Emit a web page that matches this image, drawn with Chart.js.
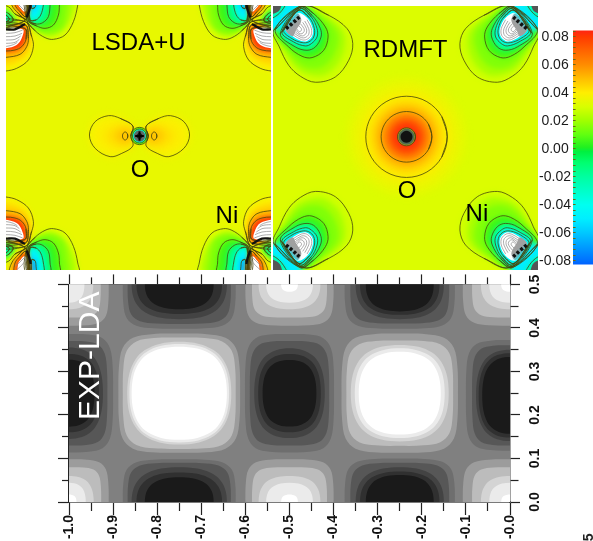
<!DOCTYPE html>
<html><head><meta charset="utf-8">
<script src="https://cdn.jsdelivr.net/npm/chart.js@4"></script>
<style>
html,body{margin:0;padding:0;background:#fff;width:593px;height:541px;overflow:hidden}
canvas{position:absolute;display:block}
</style></head><body>
<canvas id="cLsda" width="265" height="265" style="left:6px;top:5px;width:265px;height:265px"></canvas>
<canvas id="cRdmft" width="265" height="264" style="left:273px;top:6px;width:265px;height:264px"></canvas>
<canvas id="cBar" width="55" height="255" style="left:538px;top:20px;width:55px;height:255px"></canvas>
<canvas id="cExp" width="593" height="270" style="left:0;top:271px;width:593px;height:270px"></canvas>
<script>
/* ---------- colour bar ---------- */
const colourValues=[.0836,.08,.07,.06,.05,.04,.03,.02,.01,.001,-.002,-.01,-.02,-.04,-.05,-.06,-.07,-.08,-.0836];
const colourHexes=['#ff2810','#ff3a00','#ff6400','#ff8c00','#ffbe00','#ffee00','#d8ff00','#a0ff00','#60ff10','#20f020','#00f040','#00ff70','#00ffa0','#00fff0','#00eeff','#00c8ff','#009cff','#0070ff','#0060ff'];
const barTickLabels=['-0.08','-0.06','-0.04','-0.02','0.00','0.02','0.04','0.06','0.08'];

/* ---------- LSDA+U panel: field regions of one Ni corner [value, outline, has contour] ---------- */
const lsdaBlueLobe=[
 [.03,[80,60,105,92,135,113,160,118,195,105,220,65,233,15,235,-15,82,-15],1],
 [.022,[81,60,110,92,145,108,180,95,215,50,222,-15,84,-15],0],
 [.015,[82,60,115,92,155,100,190,80,205,15,205,-15,84,-15],0],
 [.005,[85,62,110,78,135,85,160,75,175,45,178,15,178,-15,85,-15],1],
 [-.015,[88,62,108,72,128,68,145,50,150,15,150,-15,88,-15],1],
 [-.035,[90,60,108,60,122,45,130,15,130,-15,90,-15],1],
 [-.05,[92,50,108,48,115,30,115,-15,92,-15],0],
 [-.068,[95,25,105,22,108,5,108,-15,95,-15],1]];
const lsdaRedLobe=[
 [.039,[76,65,95,110,100,140,85,180,50,205,18,213,-15,215,-15,70],1],
 [.045,[76,75,90,115,90,140,72,172,40,190,18,193,-15,193,-15,75],0],
 [.054,[76,75,85,115,80,140,60,163,18,172,-15,172,-15,80],1],
 [.068,[74,85,78,118,65,140,45,150,18,153,-15,152,-15,85],1],
 [.082,[72,85,70,120,55,142,18,150,-15,149,-15,85],0],
 ['#ffffff',[68,88,65,115,50,135,18,145,-15,146,-15,85],0]];
const lsdaGreenLobe=[
 [.03,[76,60,45,42,25,20,-15,15,-15,85,25,80],1],
 [.012,[48,60,32,40,18,25,-15,25,-15,78,25,75],0],
 [-.01,[40,60,25,40,-15,30,-15,72,25,70],1],
 [-.03,[28,58,18,45,-15,45,-15,65,18,65],1]];
const lsdaTopLobe=[
 [.05,[77,58,55,40,35,15,30,-15,88,-15,85,20],1],
 [.065,[76,50,60,35,45,15,45,-15,85,-15,84,25],1],
 [.08,[75,42,62,28,52,15,52,-15,83,-15,82,28],0],
 ['#ffffff',[72,35,62,25,55,15,55,-15,80,-15,80,30],0]];
const lsdaFineLines=[[-15,100,18,100,45,98,68,90],[-15,110,18,110,45,108,66,100],[-15,120,20,120,45,118,62,108],[-15,130,20,130,45,127,58,118],[-15,140,20,139,40,134,52,127],[45,5,60,18,72,30],[50,-5,65,8,78,25]];
const lsdaBlackLines=[[-15,88,18,88,45,88,75,72],[92,12,88,30,80,52]];
/* oxygen site */
const lsdaOxygenLobes=[
 [.039,[398,378,360,355,325,347,285,365,268,405,285,445,330,470,365,460,398,438,392,408],1],
 [.043,[395,385,350,375,310,408,350,442,395,430],0],
 [.05,[395,392,370,388,345,408,370,428,395,424],0]];
const lsdaLoopCentres=[375,462];
const lsdaRingRadii=[26,21,17,9];
const lsdaRingFills=[.01,-.03,'#5a6a6a','#222222'];
const lsdaRingLines=[1,1,0,0];
const lsdaCross=[[405,408,431,408],[418,394,418,422]];
const lsdaLabels=[['LSDA+U',415,130],['O',420,510],['Ni',680,650]];

/* ---------- RDMFT panel ---------- */
const rdmftCorner=[
 [.028,[95,17,170,45,225,85,242,130,230,180,190,230,130,246,85,228,50,195,22,140,5,90],1],
 [.021,[92,17,160,48,210,90,218,135,198,190,160,222,125,225,80,208,45,165,12,100],0],
 [.015,[90,17,150,50,195,95,195,140,165,190,125,205,80,190,40,140,10,90],0],
 [.005,[85,17,125,40,160,80,168,110,155,150,120,172,90,168,50,140,10,88],1],
 [-.015,[85,20,120,45,145,85,147,110,130,140,105,150,70,140,25,100],1],
 [-.035,[85,25,118,50,135,85,135,110,118,130,100,137,65,125,30,95],1],
 [-.05,[80,30,112,52,127,85,125,110,110,125,90,127,60,115,35,90],1],
 ['#ffffff',[75,38,105,52,122,85,120,108,105,122,88,122,62,108,40,85],0],
 ['#a0a0a0',[40,85,75,40,88,60,72,90,62,108],0],
 [-.05,[-15,-15,85,-15,85,22,35,85,3,90,-15,92],0],
 [-.02,[-15,-15,50,-15,40,15,15,45,-15,55],1],
 ['#555555',[-15,-15,30,-15,25,25,10,38,-15,40],0]];
const rdmftFineLines=[[105,58,118,85,117,105,103,118,88,118,65,105],[98,62,110,85,110,102,99,112,88,112,68,100],[92,66,103,85,103,98,95,106,86,106,70,95],[85,70,96,85,96,94,90,100,83,100,72,90],[80,76,88,85,88,90,84,94,80,93,74,86]];
const rdmftBlackLines=[[42,85,60,70,82,50]];
const rdmftRingRadii=[175,145,122,100,76,60,45,34,27,24,18];
const rdmftRingFills=[.034,.037,.041,.049,.058,.068,.078,.083,'#a8a020','#506a50','#111111'];
const rdmftRingLines=[0,0,1,0,1,0,0,0,1,0,0];
const rdmftLabels=[['RDMFT',400,150],['O',405,575],['Ni',614,643]];

/* ---------- EXP-LDA panel ---------- */
const xTickLabels=['-1.0','-0.9','-0.8','-0.7','-0.6','-0.5','-0.4','-0.3','-0.2','-0.1','-0.0'];
const yTickLabels=['0.0','0.1','0.2','0.3','0.4','0.5'];
const lightGreys=['#9c9c9c','#bcbcbc','#d4d4d4','#ebebeb','#ffffff'];
const darkGreys=['#6e6e6e','#575757','#434343','#303030','#1a1a1a'];
/* [centre x, centre y, half widths of the five bands, half heights of the five bands] */
const brightLobes=[
 [-.75,.25,[.138,.128,.118,.113,.108],[.137,.128,.118,.113,.107]],
 [-.25,.25,[.132,.121,.111,.102,.093],[.137,.121,.111,.103,.095]],
 [-.5,.5,[.1,.085,.07,.053,.019],[.095,.076,.057,.042,.017]],
 [-.5,0,[.1,.085,.07,.053,.019],[.098,.08,.06,.044,.017]],
 [-1,.5,[.09,.072,.055,.035,.001],[.095,.076,.057,.042,.001]],
 [-1,0,[.09,.073,.056,.038,.017],[.098,.08,.06,.044,.017]],
 [0,.5,[.107,.086,.066,.047,.02],[.095,.076,.057,.042,.017]],
 [0,0,[.107,.086,.066,.047,.02],[.098,.08,.06,.044,.017]]];
const darkLobes=[
 [-.5,.25,[.101,.09,.08,.071,.061],[.136,.12,.103,.09,.0765]],
 [0,.245,[.1,.086,.077,.071,.063],[.127,.115,.105,.097,.088]],
 [-1,.25,[.1,.087,.077,.068,.058],[.136,.12,.105,.09,.077]],
 [-.75,.5,[.128,.117,.108,.097,.078],[.102,.091,.08,.068,.057]],
 [-.75,0,[.128,.117,.108,.097,.078],[.098,.09,.08,.068,.057]],
 [-.25,.5,[.125,.112,.1,.09,.077],[.102,.09,.08,.07,.062]],
 [-.25,0,[.125,.112,.1,.09,.077],[.1,.09,.08,.07,.062]]];
/* outline templates, one quadrant */
const squareQuadrant=[[1,0],[.99,.45],[.93,.76],[.76,.93],[.45,.99],[0,1]];
const roundQuadrant=[[1,0],[.96,.38],[.84,.66],[.66,.84],[.38,.96],[0,1]];
const circleShape=[1,0,.866,.5,.5,.866,0,1,-.5,.866,-.866,.5,-1,0,-.866,-.5,-.5,-.866,0,-1,.5,-.866,.866,-.5];
const expLabels=[['EXP-LDA',-.95,.336,'30px',"#ffffff",''],['5',.18,-.081,'14px','#222222','bold ']];

/* ---------- helpers ---------- */
const FONT='"Liberation Sans",Arial,sans-serif';
const LINE='#46460c';
function rgb(h){return [1,3,5].map(i=>parseInt(h.substr(i,2),16));}
function colour(v){
  if(typeof v==='string')return v;
  for(let i=0;i<colourValues.length-1;i++){
    if(v<=colourValues[i]&&v>=colourValues[i+1]){
      const t=(colourValues[i]-v)/(colourValues[i]-colourValues[i+1]);
      const a=rgb(colourHexes[i]),b=rgb(colourHexes[i+1]);
      return 'rgb('+a.map((c,k)=>Math.round(c+(b[k]-c)*t)).join(',')+')';
    }
  }
  return v>0?colourHexes[0]:colourHexes[colourHexes.length-1];
}
function toPts(f){const o=[];for(let i=0;i<f.length;i+=2)o.push({x:f[i],y:f[i+1]});return o;}
function wrap(a){return [a[a.length-1],...a,a[0],a[1]];}
function flip(f,sx,sy){return f.map((v,i)=>i%2===0?(sx===null?v:sx-v):(sy===null?v:sy-v));}
function scaled(shape,cx,cy,hx,hy){const o=[];for(let i=0;i<shape.length;i+=2)o.push(cx+shape[i]*hx,cy+shape[i+1]*hy);return o;}
function quadToFlat(q){
  const o=[];
  q.forEach(p=>o.push(p[0],p[1]));
  q.slice(1).forEach(p=>o.push(-p[1],p[0]));
  q.slice(1).forEach(p=>o.push(-p[0],-p[1]));
  q.slice(1,-1).forEach(p=>o.push(p[1],-p[0]));
  return o;
}
function fillSet(fill,flat,blur){
  return {data:wrap(toPts(flat)),showLine:true,pointRadius:0,borderWidth:0,tension:.35,capBezierPoints:false,region:fill,blur:blur};
}
function lineSet(flat,closed,color,width,dash){
  const p=toPts(flat);
  return {data:closed?wrap(p):p,showLine:true,pointRadius:0,borderColor:color,borderWidth:width,borderDash:dash||[],tension:.35,capBezierPoints:false,fill:false};
}
function rectSet(fill,x0,y0,x1,y1){
  return {data:toPts([x0,y0,x1,y0,x1,y1,x0,y1,x0,y0]),showLine:true,pointRadius:0,borderWidth:0,tension:.001,capBezierPoints:false,region:fill,blur:0};
}
const fieldPlugin={id:'field',beforeDatasetDraw(chart,args){
  const ds=chart.data.datasets[args.index];
  if(!ds.region)return;
  const meta=chart.getDatasetMeta(args.index),ctx=chart.ctx,a=chart.chartArea;
  meta.dataset.updateControlPoints(a,'x');
  ctx.save();
  ctx.beginPath();ctx.rect(a.left,a.top,a.width,a.height);ctx.clip();
  if(ds.blur)ctx.filter='blur('+ds.blur+'px)';
  ctx.fillStyle=typeof ds.region==='function'?ds.region(chart):ds.region;
  ctx.beginPath();meta.dataset.path(ctx);ctx.closePath();ctx.fill();
  ctx.restore();
}};
function textPlugin(items,size){return {id:'txt',afterDraw(chart){
  const c=chart.ctx,sx=chart.scales.x,sy=chart.scales.y;
  items.forEach(t=>{
    c.save();
    c.fillStyle=t[4]||'#000000';
    c.font=(t[5]||'')+(t[3]||size)+' '+FONT;
    c.textAlign='center';c.textBaseline='middle';
    c.translate(sx.getPixelForValue(t[1]),sy.getPixelForValue(t[2]));
    if(t[4]||t[5])c.rotate(-Math.PI/2);
    c.fillText(t[0],0,0);
    c.restore();
  });
}};}
function ordered(list){list.forEach((d,i)=>{d.order=-i;});return list;}
const base={responsive:false,animation:false,events:[],plugins:{legend:{display:false},tooltip:{enabled:false},title:{display:false}}};
function hiddenAxes(x0,x1,y0,y1){return {x:{type:'linear',display:false,min:x0,max:x1},y:{type:'linear',display:false,min:y0,max:y1,reverse:true}};}

/* ---------- LSDA+U ---------- */
(function(){
  const fills=[rectSet(colour(.034),-50,-50,900,900)],lines=[];
  const corners=[[null,null],[830,null],[null,804],[830,804]];
  const groups=[lsdaBlueLobe,lsdaRedLobe,lsdaGreenLobe,lsdaTopLobe];
  corners.forEach(k=>{
    groups.forEach(g=>g.forEach(r=>{
      const f=flip(r[1],k[0],k[1]);
      fills.push(fillSet(colour(r[0]),f,typeof r[0]==='string'?.5:2.6));
      if(r[2])lines.push(lineSet(f,true,LINE,.8));
    }));
    lsdaFineLines.forEach(l=>lines.push(lineSet(flip(l,k[0],k[1]),false,'#8a8a8a',.7)));
    lsdaBlackLines.forEach(l=>lines.push(lineSet(flip(l,k[0],k[1]),false,'#111111',2.4)));
  });
  [null,836].forEach(sx=>{
    lsdaOxygenLobes.forEach(r=>{
      const f=flip(r[1],sx,null);
      fills.push(fillSet(colour(r[0]),f,4));
      if(r[2])lines.push(lineSet(f,true,LINE,.8));
    });
  });
  lsdaLoopCentres.forEach(cx=>lines.push(lineSet(scaled(circleShape,cx,408,8,12),true,LINE,.8)));
  lsdaRingRadii.forEach((rad,i)=>{
    const f=scaled(circleShape,418,408,rad,rad);
    fills.push(fillSet(colour(lsdaRingFills[i]),f,.6));
    if(lsdaRingLines[i])lines.push(lineSet(f,true,LINE,.8));
  });
  lsdaCross.forEach(l=>lines.push(lineSet(l,false,'#000000',2)));
  new Chart(document.getElementById('cLsda'),{type:'scatter',
    data:{datasets:ordered(fills.concat(lines))},
    options:{...base,layout:{padding:0},scales:hiddenAxes(18,812,15,810)},
    plugins:[fieldPlugin,textPlugin(lsdaLabels,'24px')]});
})();

/* ---------- RDMFT ---------- */
(function(){
  const fills=[rectSet(colour(.031),-50,-50,900,900)],lines=[];
  const corners=[[null,null],[805,null],[null,820],[805,820]];
  corners.forEach(k=>{
    rdmftCorner.forEach(r=>{
      const f=flip(r[1],k[0],k[1]);
      fills.push(fillSet(colour(r[0]),f,typeof r[0]==='string'?.5:2.6));
      if(r[2])lines.push(lineSet(f,true,LINE,.8));
    });
    rdmftFineLines.forEach(l=>lines.push(lineSet(flip(l,k[0],k[1]),false,'#8a8a8a',.7)));
    rdmftBlackLines.forEach(l=>lines.push(lineSet(flip(l,k[0],k[1]),false,'#111111',3.5,[3,2])));
  });
  rdmftRingRadii.forEach((rad,i)=>{
    const f=scaled(circleShape,403,410,rad,rad);
    fills.push(fillSet(colour(rdmftRingFills[i]),f,i<8?4.5:.6));
    if(rdmftRingLines[i])lines.push(lineSet(f,true,LINE,.8));
  });
  new Chart(document.getElementById('cRdmft'),{type:'scatter',
    data:{datasets:ordered(fills.concat(lines))},
    options:{...base,layout:{padding:0},scales:hiddenAxes(3,797,17,810)},
    plugins:[fieldPlugin,textPlugin(rdmftLabels,'24px')]});
})();

/* ---------- colour bar ---------- */
(function(){
  const grad=chart=>{
    const s=chart.scales.y,g=chart.ctx.createLinearGradient(0,chart.chartArea.top,0,chart.chartArea.bottom);
    const h=chart.chartArea.height;
    colourValues.forEach((v,i)=>{g.addColorStop(Math.min(1,Math.max(0,(s.getPixelForValue(v)-chart.chartArea.top)/h)),colourHexes[i]);});
    return g;
  };
  new Chart(document.getElementById('cBar'),{type:'scatter',
    data:{datasets:ordered([rectSet(grad,-1,-.2,2,.2)])},
    options:{...base,layout:{padding:{top:10,bottom:10,left:0,right:0}},
      scales:{
        x:{type:'linear',display:false,min:0,max:1},
        y:{type:'linear',position:'left',min:-.0827,max:.0845,
          afterFit(s){s.width=35;},
          border:{display:false,dash:[2.6,100]},
          grid:{drawTicks:false,z:1,drawOnChartArea:true,color:'#6a6a14',lineWidth:1},
          ticks:{stepSize:.004,includeBounds:false,autoSkip:false,padding:2,crossAlign:'center',
            color:'#1a1a1a',font:{family:FONT,size:14},
            callback(v){const k=(v+.08)/.02;return Math.abs(k-Math.round(k))<.01?(barTickLabels[Math.round(k)]||''):'';}}
        }}},
    plugins:[fieldPlugin]});
})();

/* ---------- EXP-LDA ---------- */
(function(){
  const sets=[rectSet('#808080',-2,-1,1,1)];
  const sq=quadToFlat(squareQuadrant),rd=quadToFlat(roundQuadrant);
  const add=(list,greys)=>list.forEach(l=>{
    greys.forEach((g,i)=>{
      sets.push(fillSet(g,scaled(i<2?sq:rd,l[0],l[1],l[2][i],l[3][i]),.45));
    });
  });
  add(brightLobes,lightGreys);
  add(darkLobes,darkGreys);
  const major=v=>Math.abs(v*10-Math.round(v*10))<.01;
  const axis=(extra,len,minor,fromOuter,color,width)=>Object.assign({
    type:'linear',
    border:{display:true,color:color,width:width},
    grid:{drawOnChartArea:false,drawTicks:true,tickLength:len,tickColor:'#222222',tickWidth:1.2,
      tickBorderDash:c=>major(c.tick.value)?[]:[minor,100],
      tickBorderDashOffset:c=>(major(c.tick.value)||!fromOuter)?0:(minor+100-(len-minor))}
  },extra);
  const labelFont={family:FONT,size:14,weight:'bold'};
  new Chart(document.getElementById('cExp'),{type:'scatter',
    data:{datasets:ordered(sets)},
    options:{...base,layout:{padding:0},scales:{
      x:axis({position:'bottom',min:-1,max:0,afterFit(s){s.height=39;},
        ticks:{stepSize:.05,autoSkip:false,minRotation:90,maxRotation:90,padding:0,color:'#111111',font:labelFont,
          callback(v){return major(v)?xTickLabels[Math.round((v+1)*10)]:'';}}},13,8,false,'#7a7a7a',2),
      xTop:axis({axis:'x',position:'top',min:-1,max:0,afterFit(s){s.height=11;},
        ticks:{stepSize:.05,autoSkip:false,display:false}},10,7,true,'#555555',1.5),
      y:axis({position:'left',min:0,max:.5,afterFit(s){s.width=69;},
        ticks:{stepSize:.05,autoSkip:false,display:false}},11,7,true,'#222222',1.5),
      yRight:axis({axis:'y',position:'right',min:0,max:.5,afterFit(s){s.width=83;},
        ticks:{stepSize:.05,autoSkip:false,minRotation:90,maxRotation:90,padding:5,crossAlign:'center',color:'#111111',font:labelFont,
          callback(v){return major(v)?yTickLabels[Math.round(v*10)]:'';}}},10,8,false,'#444444',1.5)
    }},
    plugins:[fieldPlugin,textPlugin(expLabels,'13px')]});
})();
</script>
</body></html>
